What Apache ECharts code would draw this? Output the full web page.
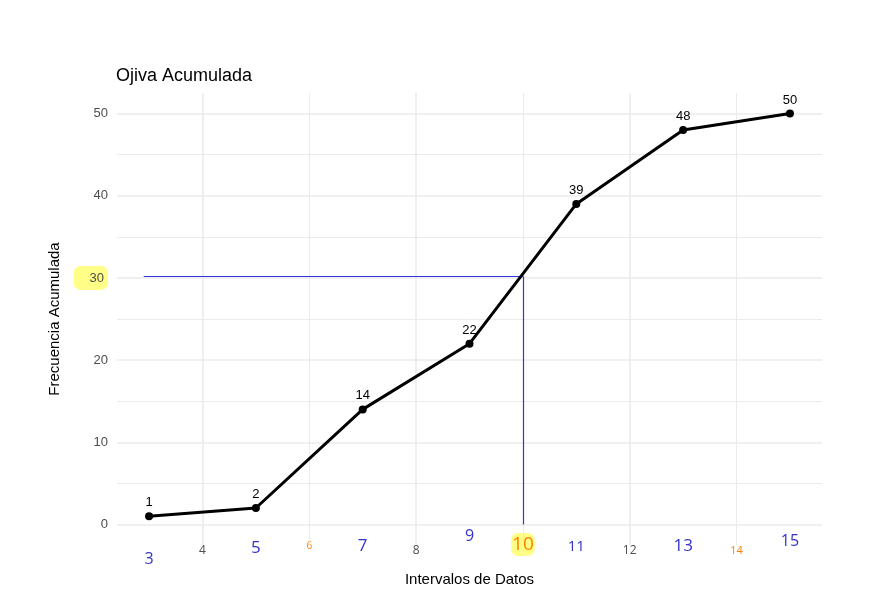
<!DOCTYPE html>
<html><head><meta charset="utf-8">
<script src="https://cdn.jsdelivr.net/npm/echarts@6/dist/echarts.min.js"></script>
<style>html,body{margin:0;background:#fff}#c{width:883px;height:615px}</style>
</head><body><div id="c"></div>
<script>
const xValues = [3, 5, 7, 9, 11, 13, 15];
const cumFreq = [1, 2, 14, 22, 39, 48, 50];
const xTickLabels = [3,4,5,6,7,8,9,10,11,12,13,14,15];
const yTickLabels = [0,10,20,30,40,50];
const refY = 30.2, refX = 10, refXStart = 2.9;
const xGridMajor = [4,8,12], xGridMinor = [6,10,14];
const yGridMajor = [0,10,20,30,40,50], yGridMinor = [5,15,25,35,45];

const styleFor = {
  3:{color:'#3333cc',fontSize:16,padding:[18,0,0,0]},
  4:{color:'#4d4d4d',fontSize:12,padding:[12,0,0,0]},
  5:{color:'#3333cc',fontSize:17,padding:[7,0,0,0]},
  6:{color:'#ff8000',fontSize:10,padding:[8,0,0,0]},
  7:{color:'#3333cc',fontSize:17,padding:[5,0,0,0]},
  8:{color:'#4d4d4d',fontSize:12,padding:[12,0,0,0]},
  9:{color:'#3333cc',fontSize:16,padding:[-5,0,0,0]},
  10:{color:'#ff8000',fontSize:19,padding:[2,1,2,1],backgroundColor:'#ffff88',borderRadius:7},
  11:{color:'#3333cc',fontSize:15,padding:[6,0,0,0]},
  12:{color:'#4d4d4d',fontSize:12,padding:[12,0,0,0]},
  13:{color:'#3333cc',fontSize:17,padding:[5,0,0,0]},
  14:{color:'#ff8000',fontSize:11,padding:[12,0,0,0]},
  15:{color:'#3333cc',fontSize:16,padding:[0,0,0,0]}
};
const rich = {};
xTickLabels.forEach(v => rich['r'+v] = Object.assign({fontFamily:'Open Sans'}, styleFor[v]));

function gridLines(axis, vals, w) {
  return vals.map(v => ({[axis]: v, lineStyle:{color:'#ebebeb', width:w, type:'solid'}}));
}

const chart = echarts.init(document.getElementById('c'));
chart.setOption({
  animation:false,
  textStyle:{fontFamily:'Liberation Sans'},
  title:{text:'Ojiva Acumulada', left:111, top:62, textStyle:{fontSize:18, fontWeight:'normal', color:'#000', fontFamily:'Liberation Sans'}},
  grid:{left:117, right:61, top:93, bottom:70},
  xAxis:{type:'value', min:2.4, max:15.6,
    name:'Intervalos de Datos', nameLocation:'middle', nameGap:3,
    nameTextStyle:{fontSize:15, color:'#000'},
    axisLine:{show:false}, axisTick:{show:false}, splitLine:{show:false},
    axisLabel:{customValues:xTickLabels, margin:-12, formatter:v=>'{r'+v+'|'+v+'}', rich:rich}},
  yAxis:{type:'value', min:-2.5, max:52.5,
    name:'Frecuencia Acumulada', nameLocation:'middle', nameGap:33,
    nameTextStyle:{fontSize:15, color:'#000'},
    axisLine:{show:false}, axisTick:{show:false}, splitLine:{show:false},
    axisLabel:{customValues:yTickLabels, margin:9, color:'#4d4d4d', fontSize:13,
      formatter:v=> v===30 ? '{h|30}' : String(v),
      rich:{h:{color:'#4d4d4d',fontSize:13,backgroundColor:'#ffff88',borderRadius:7,padding:[6,4,5,16]}}}},
  series:[
    {type:'line', data:[], silent:true,
      markLine:{silent:true, symbol:'none', label:{show:false},
        data:[...gridLines('xAxis',xGridMinor,1),...gridLines('xAxis',xGridMajor,1.6),
              ...gridLines('yAxis',yGridMinor,1),...gridLines('yAxis',yGridMajor,1.6)]}},
    {type:'line', data:xValues.map((x,i)=>[x,cumFreq[i]]), z:5,
      lineStyle:{color:'#000', width:3}, itemStyle:{color:'#000'},
      symbol:'circle', symbolSize:8,
      label:{show:true, position:'top', distance:3, color:'#000', fontSize:13},
      markLine:{silent:true, symbol:'none', label:{show:false},
        lineStyle:{color:'#3333dd', width:1.2, type:'solid'},
        data:[[{coord:[refXStart,refY]},{coord:[refX,refY]}],
              [{coord:[refX,0]},{coord:[refX,refY]}]]}}
  ]
});
</script></body></html>
